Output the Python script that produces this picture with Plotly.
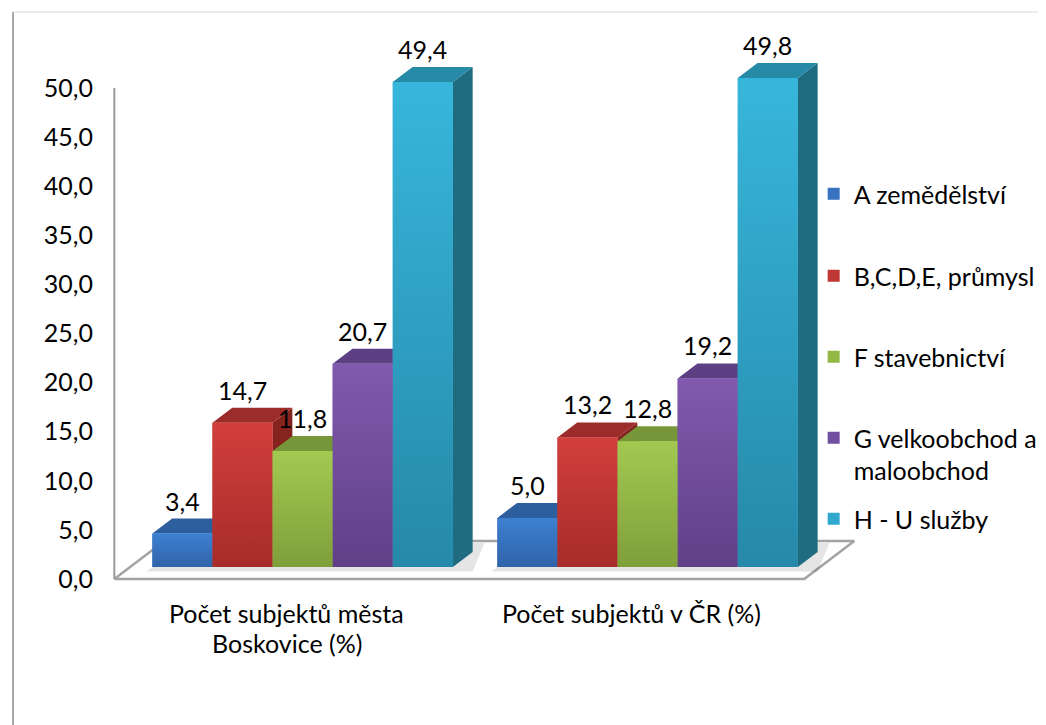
import plotly.graph_objects as go

# ---------------- data ----------------
CATEGORIES = ["Počet subjektů města\nBoskovice (%)", "Počet subjektů v ČR (%)"]
SERIES = ["A zemědělství", "B,C,D,E, průmysl", "F stavebnictví",
          "G velkoobchod a<br>maloobchod", "H - U služby"]
A_ZEMEDELSTVI = [3.4, 5.0]
BCDE_PRUMYSL = [14.7, 13.2]
F_STAVEBNICTVI = [11.8, 12.8]
G_OBCHOD = [20.7, 19.2]
HU_SLUZBY = [49.4, 49.8]
VALUES = [A_ZEMEDELSTVI, BCDE_PRUMYSL, F_STAVEBNICTVI, G_OBCHOD, HU_SLUZBY]
Y_TICKS = [0, 5, 10, 15, 20, 25, 30, 35, 40, 45, 50]

# ---------------- style ----------------
FRONT = ["#3872c0", "#bf3835", "#93b844", "#7250a0", "#30a8ce"]
FRONT_TOP = ["#3d80d2", "#d23f3c", "#a3c951", "#8159ae", "#37b6db"]
FRONT_BOTTOM = ["#3063a8", "#a62c2a", "#7f9f3a", "#604087", "#2689a9"]
TOP = ["#2d5e9e", "#9c2c29", "#77963a", "#5c4083", "#2689a6"]
SIDE = ["#264f87", "#85231f", "#667f31", "#4e366e", "#1f6b80"]
FONT = "Lato, 'Open Sans', sans-serif"
FS = 25

W, H = 1046, 725
PAGE_OFF = 8                      # page body margin of the html page
ML, MR, MT, MB = 92, 174, 12, 133
PX_PER_X = 349.0                  # pixels per category unit
PX_PER_Y = 9.82                   # pixels per value unit
X_ORIGIN_PX = 305.0 - PAGE_OFF    # first category centre (bar front plane)
Y_ORIGIN_PX = 579.0 - PAGE_OFF    # value 0 on floor front edge

DX = 20.0 / PX_PER_X              # depth projection per bar depth
DY = 15.0 / PX_PER_Y
FRONT_D = 0.8                     # bar front plane depth from floor front
FLOOR_BACK_D = 1.73               # floor back edge depth (from bar front plane)
BAR_W = 60.8 / PX_PER_X
BASE = FRONT_D * DY

plot_h = H - MT - MB
plot_w = W - ML - MR
x_range = [(ML - X_ORIGIN_PX) / PX_PER_X, (W - MR - X_ORIGIN_PX) / PX_PER_X]
y_range = [(Y_ORIGIN_PX - (H - MB)) / PX_PER_Y, (Y_ORIGIN_PX - MT) / PX_PER_Y]


def paper_y(ref_px):
    return (H - MB - (ref_px - PAGE_OFF)) / plot_h


def paper_x(ref_px):
    return ((ref_px - PAGE_OFF) - ML) / plot_w


fig = go.Figure()

# floor
fx = [-0.5 - FRONT_D * DX, 1.5 - FRONT_D * DX, 1.5 + FLOOR_BACK_D * DX,
      -0.5 + FLOOR_BACK_D * DX, -0.5 - FRONT_D * DX]
fy = [0, 0, (FLOOR_BACK_D + FRONT_D) * DY, (FLOOR_BACK_D + FRONT_D) * DY, 0]
fig.add_trace(go.Scatter(x=fx, y=fy, mode="lines", fill="toself",
                         fillcolor="white", line=dict(color="#a3a3a3", width=2.5),
                         hoverinfo="skip", showlegend=False))
# soft shadows on the floor behind each group of bars
n = len(SERIES)
for g in range(len(CATEGORIES)):
    gx0 = g - n / 2 * BAR_W
    gx1 = g + n / 2 * BAR_W
    shx = [gx0 - 0.3 * DX, gx1 + 1.0 * DX, gx1 + 1.6 * DX, gx0 + 1.6 * DX, gx0 - 0.3 * DX]
    shy = [BASE - 0.3 * DY, BASE - 0.3 * DY, BASE + 1.6 * DY, BASE + 1.6 * DY, BASE - 0.3 * DY]
    fig.add_trace(go.Scatter(x=shx, y=shy, mode="lines", fill="toself",
                             fillcolor="rgba(0,0,0,0.10)", line=dict(width=0),
                             hoverinfo="skip", showlegend=False))
# value axis line
fig.add_trace(go.Scatter(x=[fx[0], fx[0]], y=[Y_TICKS[0], Y_TICKS[-1]], mode="lines",
                         line=dict(color="#9a9a9a", width=2), hoverinfo="skip",
                         showlegend=False))

for k in range(n):
    sx, sy, tx, ty = [], [], [], []
    for g, v in enumerate(VALUES[k]):
        x0 = g + (k - n / 2) * BAR_W
        x1 = x0 + BAR_W
        y0 = BASE
        y1 = BASE + v
        sx += [x1, x1, x1 + DX, x1 + DX, x1, None]
        sy += [y0, y1, y1 + DY, y0 + DY, y0, None]
        tx += [x0, x0 + DX, x1 + DX, x1, x0, None]
        ty += [y1, y1 + DY, y1 + DY, y1, y1, None]
    fig.add_trace(go.Scatter(x=sx, y=sy, mode="lines", fill="toself",
                             fillcolor=SIDE[k], line=dict(width=0, color=SIDE[k]),
                             hoverinfo="skip", showlegend=False))
    fig.add_trace(go.Scatter(x=tx, y=ty, mode="lines", fill="toself",
                             fillcolor=TOP[k], line=dict(width=0, color=TOP[k]),
                             hoverinfo="skip", showlegend=False))

# front faces (bars) on overlaying axes so they sit above the side faces
legend_ids = ["legend", "legend2", "legend3", "legend4", "legend5"]
for k in range(n):
    xs = [g + (k - n / 2 + 0.5) * BAR_W for g in range(len(CATEGORIES))]
    fig.add_trace(go.Bar(x=xs, y=VALUES[k], base=BASE, width=BAR_W,
                         name=SERIES[k], marker=dict(color=FRONT[k], line=dict(width=0)),
                         xaxis="x2", yaxis="y2", legend=legend_ids[k],
                         hoverinfo="skip"))
# vertical shading of the front faces
for k in range(n):
    for g, v in enumerate(VALUES[k]):
        x0 = g + (k - n / 2) * BAR_W
        x1 = x0 + BAR_W
        fig.add_trace(go.Scatter(
            x=[x0, x1, x1, x0, x0], y=[BASE, BASE, BASE + v, BASE + v, BASE],
            mode="lines", fill="toself", line=dict(width=0, color=FRONT[k]),
            fillgradient=dict(type="vertical", start=BASE, stop=BASE + v,
                              colorscale=[[0, FRONT_BOTTOM[k]], [1, FRONT_TOP[k]]]),
            xaxis="x2", yaxis="y2", hoverinfo="skip", showlegend=False))

annotations = []
for k in range(n):
    for g, v in enumerate(VALUES[k]):
        xc = g + (k - n / 2 + 0.5) * BAR_W
        annotations.append(dict(x=xc, y=BASE + v + DY, xref="x", yref="y",
                                text=f"{v:.1f}".replace(".", ","), showarrow=False,
                                yanchor="bottom", yshift=1,
                                font=dict(family=FONT, size=FS, color="#000")))
for g, cat in enumerate(CATEGORIES):
    xc = g - FRONT_D * DX
    for i, line in enumerate(cat.split("\n")):
        annotations.append(dict(x=xc, y=paper_y(613 + 30 * i),
                                xref="x", yref="paper", text=line, showarrow=False,
                                yanchor="middle", xanchor="center",
                                font=dict(family=FONT, size=FS, color="#000")))

# legends (one per item, Excel spreads them out)
legend_px = [194, 276, 357, 454, 519]
legends = {}
for k, lid in enumerate(legend_ids):
    legends[lid] = dict(x=paper_x(822), y=paper_y(legend_px[k]),
                        xanchor="left", yanchor="middle", valign="top",
                        font=dict(family=FONT, size=FS, color="#000"),
                        bgcolor="rgba(0,0,0,0)", borderwidth=0)

# chart area border (left and top edges)
shapes = [
    dict(type="line", xref="paper", yref="paper",
         x0=paper_x(12), x1=paper_x(12), y0=paper_y(12), y1=paper_y(760),
         line=dict(color="#8c8c8c", width=1.5)),
    dict(type="line", xref="paper", yref="paper",
         x0=paper_x(12), x1=paper_x(1080), y0=paper_y(12), y1=paper_y(12),
         line=dict(color="#d9d9d9", width=1)),
]

fig.update_layout(
    width=W, height=H, autosize=False,
    margin=dict(l=ML, r=MR, t=MT, b=MB, pad=0),
    paper_bgcolor="white", plot_bgcolor="rgba(0,0,0,0)",
    separators=", ",
    font=dict(family=FONT, size=FS, color="#000"),
    xaxis=dict(range=x_range, visible=False, fixedrange=True),
    yaxis=dict(range=y_range, showgrid=False, zeroline=False, showline=False,
               tickvals=Y_TICKS, tickformat=".1f", ticks="", ticklabelstandoff=6,
               tickfont=dict(family=FONT, size=FS, color="#000"), fixedrange=True),
    xaxis2=dict(range=x_range, overlaying="x", visible=False, fixedrange=True),
    yaxis2=dict(range=y_range, overlaying="y", visible=False, fixedrange=True),
    barmode="overlay",
    annotations=annotations,
    shapes=shapes,
    hovermode=False,
    **legends,
)

fig.write_html("out.html")
